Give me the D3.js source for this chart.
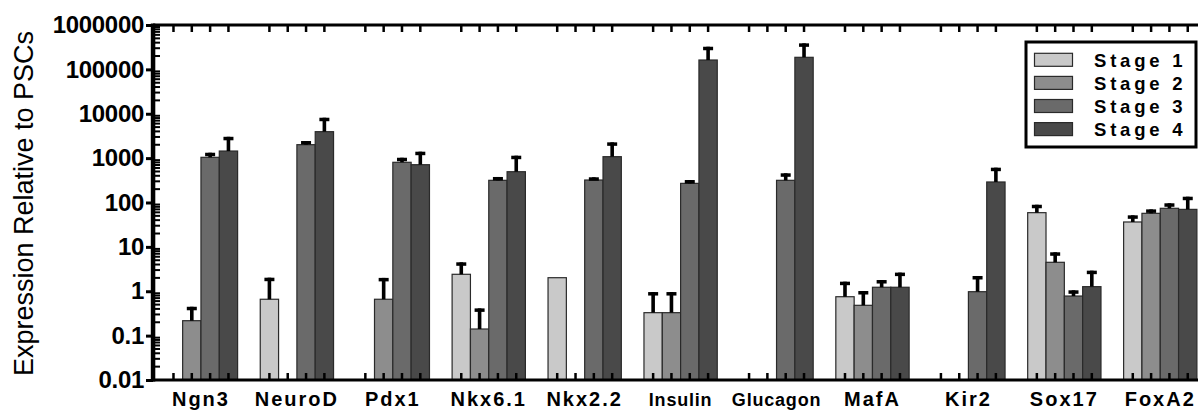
<!DOCTYPE html>
<html>
<head>
<meta charset="utf-8">
<script src="https://cdn.jsdelivr.net/npm/d3@7/dist/d3.min.js"></script>
<style>
  html, body { margin: 0; padding: 0; background: #fff; }
  svg { display: block; }
  text { font-family: "Liberation Sans", Arial, sans-serif; }
</style>
</head>
<body>
<svg id="chart" width="1198" height="412"></svg>
<script>
// ---- Data ----
const categories = ["Ngn3", "NeuroD", "Pdx1", "Nkx6.1", "Nkx2.2", "Insulin", "Glucagon", "MafA", "Kir2", "Sox17", "FoxA2"];
const stages = ["Stage 1", "Stage 2", "Stage 3", "Stage 4"];
const stage1Values = [null, 0.66, null, 2.41, 2.02, 0.329, null, 0.753, null, 59, 36.4];
const stage2Values = [0.217, null, 0.66, 0.141, null, 0.329, null, 0.482, null, 4.49, 57];
const stage3Values = [1043, 2010, 805, 316, 321, 270, 316, 1.23, 0.977, 0.78, 74];
const stage4Values = [1445, 3945, 711, 494, 1078, 162600, 187000, 1.23, 290, 1.27, 70];
const stage1Errors = [null, 1.36, null, 2.08, null, 0.63, null, 0.89, null, 30, 15];
const stage2Errors = [0.23, null, 1.34, 0.27, null, 0.63, null, 0.53, null, 3.06, 13];
const stage3Errors = [280, 420, 215, 60, 49, 51, 139, 0.56, 1.23, 0.27, 22];
const stage4Errors = [1580, 4190, 685, 640, 1190, 161000, 199000, 1.4, 319, 1.64, 65];
const yTickValues = [0.01, 0.1, 1, 10, 100, 1000, 10000, 100000, 1000000];
const yTickLabels = ["0.01", "0.1", "1", "10", "100", "1000", "10000", "100000", "1000000"];
const stageColors = ["#c9c9c9", "#8d8d8d", "#6a6a6a", "#494949"];

const seriesValues = [stage1Values, stage2Values, stage3Values, stage4Values];
const seriesErrors = [stage1Errors, stage2Errors, stage3Errors, stage4Errors];

// ---- Layout ----
const plotLeft = 153, plotTop = 25, plotBottom = 380;
const bandStep = 95.93;
const svg = d3.select("#chart");

const x0 = d3.scaleBand().domain(categories)
  .range([plotLeft, plotLeft + bandStep * categories.length])
  .paddingInner(0.236).paddingOuter(0.118);
const x1 = d3.scaleBand().domain(stages).range([0, x0.bandwidth()]).padding(0);
const y = d3.scaleLog().domain([0.01, 1000000]).range([plotBottom, plotTop]);
const color = d3.scaleOrdinal().domain(stages).range(stageColors);

const bars = [];
categories.forEach((c, ci) => {
  stages.forEach((s, si) => {
    bars.push({cat: c, stage: s, value: seriesValues[si][ci], err: seriesErrors[si][ci]});
  });
});
const cx = d => x0(d.cat) + x1(d.stage) + x1.bandwidth() / 2;

// ---- Bars ----
const gBars = svg.append("g");
gBars.selectAll("rect.bar").data(bars.filter(d => d.value != null)).join("rect")
  .attr("class", "bar")
  .attr("x", d => x0(d.cat) + x1(d.stage))
  .attr("y", d => y(d.value))
  .attr("width", x1.bandwidth())
  .attr("height", d => plotBottom - y(d.value))
  .attr("fill", d => color(d.stage))
  .attr("stroke", "#2a2a2a")
  .attr("stroke-width", 1.2);

// ---- Error bars ----
const eb = bars.filter(d => d.value != null && d.err != null && d.err > 0);
gBars.selectAll("rect.stem").data(eb).join("rect")
  .attr("class", "stem")
  .attr("x", d => cx(d) - 1.8)
  .attr("y", d => y(d.value + d.err))
  .attr("width", 3.6)
  .attr("height", d => y(d.value) - y(d.value + d.err))
  .attr("fill", "#000");
gBars.selectAll("rect.cap").data(eb).join("rect")
  .attr("class", "cap")
  .attr("x", d => cx(d) - 5)
  .attr("y", d => y(d.value + d.err))
  .attr("width", 10).attr("height", 3.5)
  .attr("fill", "#000");

// ---- Frame (top and bottom edges) with category ticks ----
const frameG = svg.append("g").attr("class", "frame");
frameG.append("rect").attr("x", plotLeft).attr("y", plotTop - 1.5)
  .attr("width", 1198 - plotLeft).attr("height", 3).attr("fill", "#000");
frameG.append("rect").attr("x", plotLeft).attr("y", plotBottom - 1.5)
  .attr("width", 1198 - plotLeft).attr("height", 3).attr("fill", "#000");
frameG.selectAll("rect.ttick").data(bars).join("rect").attr("class", "ttick")
  .attr("x", d => cx(d) - 1.25).attr("y", plotTop).attr("width", 2.5).attr("height", 7)
  .attr("fill", "#000");
frameG.selectAll("rect.btick").data(bars).join("rect").attr("class", "btick")
  .attr("x", d => cx(d) - 1.25).attr("y", plotBottom - 7).attr("width", 2.5).attr("height", 7)
  .attr("fill", "#000");

// ---- Y axis ----
const yAxisG = svg.append("g").attr("transform", `translate(${plotLeft},0)`);
const yAxis = d3.axisLeft(y).tickValues(yTickValues)
  .tickFormat((d, i) => yTickLabels[i]).tickSize(7).tickPadding(2);
yAxisG.call(yAxis);
yAxisG.select(".domain").remove();
yAxisG.selectAll(".tick line").attr("stroke", "#000").attr("stroke-width", 3);
yAxisG.selectAll(".tick text")
  .attr("font-size", 24).attr("font-weight", "bold").attr("fill", "#000")
  .attr("font-family", "Liberation Sans, Arial, sans-serif")
  .attr("letter-spacing", -0.3);

const minor = [];
for (let e = -2; e < 6; e++) for (let m = 2; m <= 9; m++) minor.push(m * Math.pow(10, e));
yAxisG.append("g").selectAll("rect").data(minor).join("rect")
  .attr("x", 0).attr("y", d => y(d) - 1).attr("width", 7).attr("height", 2)
  .attr("fill", "#000");
yAxisG.append("rect").attr("x", -2.2).attr("y", plotTop - 1.5)
  .attr("width", 4.5).attr("height", plotBottom - plotTop + 3).attr("fill", "#000");

// ---- Y label ----
svg.append("text")
  .attr("transform", `translate(33,${(plotTop + plotBottom) / 2 + 1}) rotate(-90)`)
  .attr("text-anchor", "middle")
  .attr("font-size", 27)
  .attr("fill", "#000")
  .text("Expression Relative to PSCs");

// ---- Category labels ----
svg.append("g").selectAll("text").data(categories).join("text")
  .attr("x", d => x0(d) + x0.bandwidth() / 2)
  .attr("y", 406)
  .attr("text-anchor", "middle")
  .attr("font-weight", "bold")
  .attr("font-size", d => (d === "Insulin" || d === "Glucagon") ? 18 : 20)
  .attr("letter-spacing", d => (d === "Insulin" || d === "Glucagon") ? 0.8 : 2)
  .attr("fill", "#000")
  .text(d => d);

// ---- Legend ----
const lg = svg.append("g");
lg.append("rect").attr("x", 1026).attr("y", 42).attr("width", 170).attr("height", 105)
  .attr("fill", "#fff").attr("stroke", "#000").attr("stroke-width", 3);
const rowY = d3.scaleBand().domain(stages).range([53.3, 53.3 + 4 * 23.1]);
lg.selectAll("rect.sw").data(stages).join("rect").attr("class", "sw")
  .attr("x", 1034.5).attr("y", d => rowY(d)).attr("width", 38).attr("height", 13)
  .attr("fill", d => color(d)).attr("stroke", "#2a2a2a").attr("stroke-width", 1.2);
lg.selectAll("text").data(stages).join("text")
  .attr("x", 1094).attr("y", d => rowY(d) + 13.5)
  .attr("font-size", 18.5).attr("font-weight", "bold").attr("letter-spacing", 3.8)
  .attr("fill", "#000")
  .text(d => d);
</script>
</body>
</html>
